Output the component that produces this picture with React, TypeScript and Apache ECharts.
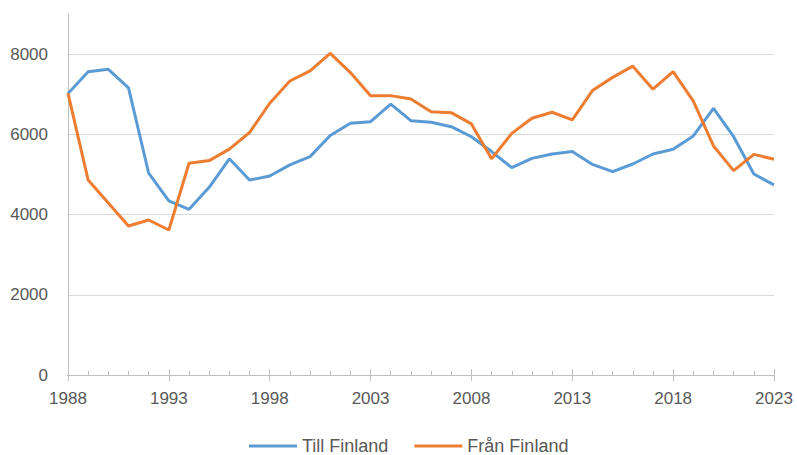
import React, { useEffect, useRef } from "react";
import * as echarts from "echarts";

const years: string[] = [];
for (let y = 1988; y <= 2023; y++) years.push(String(y));

const tillFinland = [
  7020, 7560, 7620, 7160, 5030, 4340, 4130, 4680, 5390, 4860, 4960, 5240,
  5445, 5970, 6275, 6315, 6755, 6340, 6300, 6190, 5940, 5570, 5170, 5400,
  5510, 5570, 5250, 5070, 5260, 5510, 5630, 5960, 6650, 5940, 5010, 4740,
];

const franFinland = [
  7020, 4860, 4290, 3715, 3865, 3615, 5280, 5345, 5630, 6045, 6775, 7330,
  7580, 8020, 7540, 6960, 6965, 6880, 6565, 6540, 6260, 5390, 6025, 6400,
  6550, 6360, 7090, 7420, 7700, 7125, 7565, 6830, 5710, 5095, 5500, 5380,
];

const FONT = "Liberation Sans";
const TEXT = "#595959";

export default function App() {
  const ref = useRef<HTMLDivElement>(null);
  useEffect(() => {
    if (!ref.current) return;
    const chart = echarts.init(ref.current, undefined, { renderer: "svg" });
    const baseX = {
      type: "category" as const,
      data: years,
      boundaryGap: false,
      position: "bottom" as const,
      axisLine: { show: true, lineStyle: { color: "#bfbfbf", width: 1 } },
      splitLine: { show: false },
    };
    chart.setOption({
      animation: false,
      textStyle: { fontFamily: FONT },
      grid: { left: 68, right: 23, top: 14, bottom: 80, containLabel: false },
      xAxis: [
        {
          ...baseX,
          axisTick: { show: true, interval: 0, inside: true, length: 4, lineStyle: { color: "#bfbfbf" } },
          axisLabel: { interval: 4, color: TEXT, fontSize: 17, fontFamily: FONT, margin: 15 },
        },
        {
          ...baseX,
          axisTick: { show: true, interval: 4, inside: true, length: 6, lineStyle: { color: "#bfbfbf" } },
          axisLabel: { show: false },
        },
        {
          ...baseX,
          axisTick: { show: true, interval: 4, inside: false, length: 6, lineStyle: { color: "#bfbfbf" } },
          axisLabel: { show: false },
        },
      ],
      yAxis: {
        type: "value",
        min: 0,
        max: 9000,
        interval: 2000,
        axisLine: { show: true, lineStyle: { color: "#bfbfbf", width: 1 } },
        axisTick: { show: false },
        axisLabel: {
          color: TEXT,
          fontSize: 17,
          fontFamily: FONT,
          margin: 20,
          showMaxLabel: false,
          formatter: (v: number) => String(v),
        },
        splitLine: { show: true, showMaxLine: false, lineStyle: { color: "#d9d9d9", width: 1 } },
      },
      legend: {
        left: 249,
        top: 437,
        icon: "rect",
        itemWidth: 48,
        itemHeight: 3,
        itemGap: 26,
        padding: 0,
        textStyle: { color: TEXT, fontSize: 18, fontFamily: FONT, lineHeight: 18 },
        data: ["Till Finland", "Från Finland"],
      },
      series: [
        {
          name: "Till Finland",
          type: "line",
          data: tillFinland,
          symbol: "none",
          lineStyle: { color: "#5B9BD5", width: 3 },
          itemStyle: { color: "#5B9BD5" },
        },
        {
          name: "Från Finland",
          type: "line",
          data: franFinland,
          symbol: "none",
          lineStyle: { color: "#ED7D31", width: 3 },
          itemStyle: { color: "#ED7D31" },
        },
      ],
    });
    return () => chart.dispose();
  }, []);
  return <div ref={ref} style={{ width: 797, height: 455, position: "absolute", left: 0, top: 0 }} />;
}
